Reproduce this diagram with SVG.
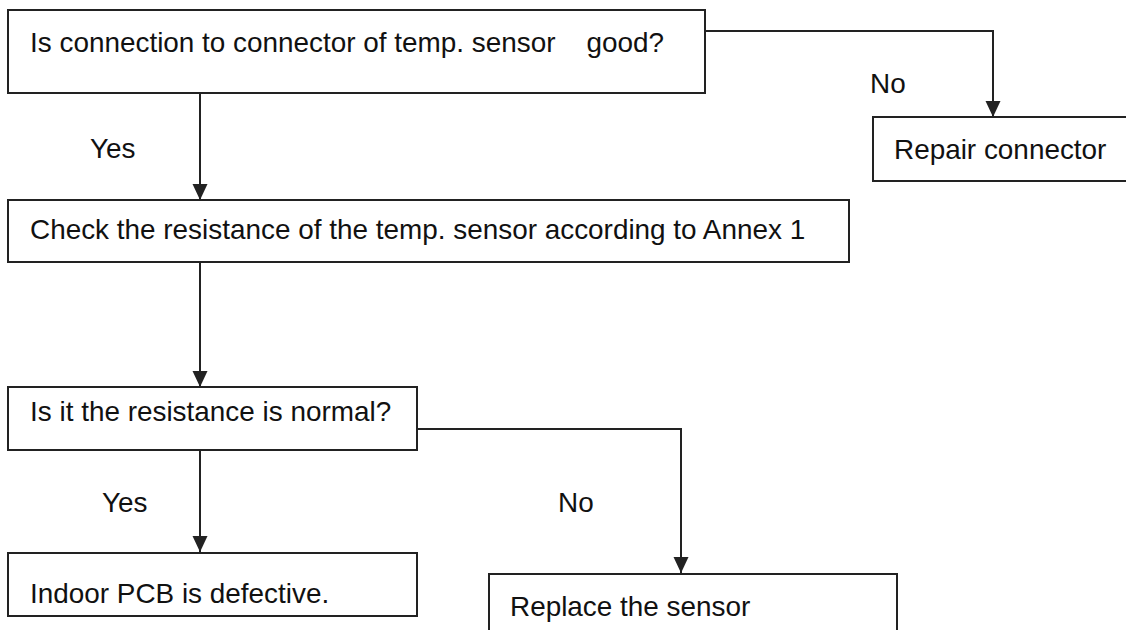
<svg xmlns="http://www.w3.org/2000/svg" width="1126" height="630" viewBox="0 0 1126 630">
<style>
.box{fill:#fff;stroke:#222;stroke-width:2}
.t{font-family:"Liberation Sans",Arial,sans-serif;font-size:27.9px;fill:#111}
.c{fill:none;stroke:#222;stroke-width:2}
</style>
<defs>
<marker id="ah" viewBox="0 0 16 16" refX="16" refY="8" markerWidth="16" markerHeight="16" markerUnits="userSpaceOnUse" orient="auto">
<path d="M0,0.5 L16,8 L0,15.5 Z" fill="#222"/>
</marker>
</defs>
<rect width="1126" height="630" fill="#fff"/>
<g id="connectors">
<path class="c" d="M705,31 H993 V117" marker-end="url(#ah)"/>
<path class="c" d="M200,93 V200" marker-end="url(#ah)"/>
<path class="c" d="M200,262 V387" marker-end="url(#ah)"/>
<path class="c" d="M200,450 V552" marker-end="url(#ah)"/>
<path class="c" d="M412,429 H681 V573" marker-end="url(#ah)"/>
<text class="t" x="870" y="93">No</text>
<text class="t" x="90" y="158">Yes</text>
<text class="t" x="102" y="512">Yes</text>
<text class="t" x="558" y="512">No</text>
</g>
<g id="n1">
<rect class="box" x="8" y="10" width="697" height="83"/>
<text class="t" x="30" y="52" xml:space="preserve">Is connection to connector of temp. sensor    good?</text>
</g>
<g id="n2">
<rect class="box" x="873" y="117" width="260" height="64"/>
<text class="t" x="894" y="159">Repair connector</text>
</g>
<g id="n3">
<rect class="box" x="8" y="200" width="841" height="62"/>
<text class="t" x="30" y="239">Check the resistance of the temp. sensor according to Annex 1</text>
</g>
<g id="n4">
<rect class="box" x="8" y="387" width="409" height="63"/>
<text class="t" x="30" y="421">Is it the resistance is normal?</text>
</g>
<g id="n5">
<rect class="box" x="8" y="553" width="409" height="63"/>
<text class="t" x="30" y="603">Indoor PCB is defective.</text>
</g>
<g id="n6">
<rect class="box" x="489" y="574" width="408" height="80"/>
<text class="t" x="510" y="616">Replace the sensor</text>
</g>
</svg>
